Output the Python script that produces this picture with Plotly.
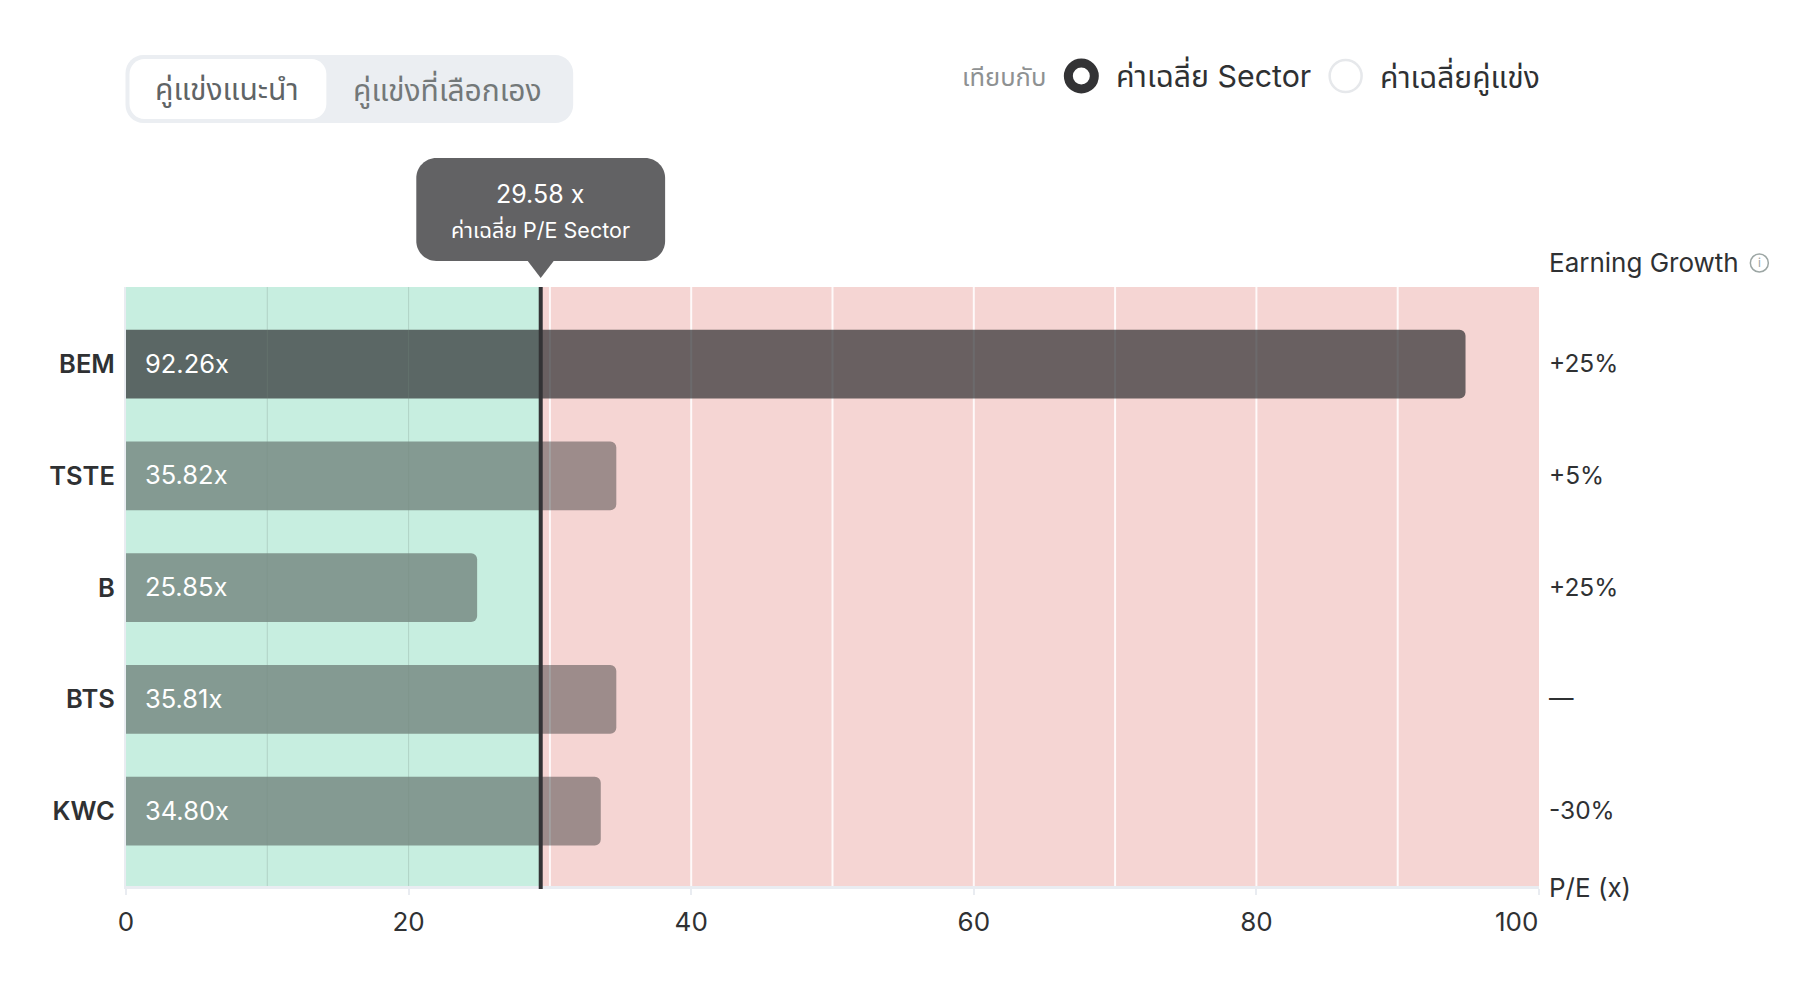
import plotly.graph_objects as go

companies = ["BEM", "TSTE", "B", "BTS", "KWC"]
bar_values = [94.8, 34.7, 24.85, 34.7, 33.6]
bar_labels = ["92.26x", "35.82x", "25.85x", "35.81x", "34.80x"]
growth_labels = ["+25%", "+5%", "+25%", "—", "-30%"]
sector_avg = 29.35
sector_label = "29.58 x"
x_ticks = [0, 20, 40, 60, 80]
x_tick_labels = ["0", "20", "40", "60", "80"]
grid_in_green = [10, 20]
grid_in_red = [30, 40, 50, 60, 70, 80, 90]

W, H = 1800, 1000
L, R, T, B = 125.5, 1539.5, 287, 886
FONT = "Inter, 'Noto Sans Thai', 'Noto Sans', sans-serif"
INK = "#2F3133"
px = lambda v: (v - L) / (R - L)
py = lambda v: (B - v) / (B - T)


def rrect(x0, y0, x1, y1, r):
    k = r * 0.45
    pts = [
        ("M", x0 + r, y0), ("L", x1 - r, y0),
        ("C", x1 - k, y0, x1, y0 + k, x1, y0 + r), ("L", x1, y1 - r),
        ("C", x1, y1 - k, x1 - k, y1, x1 - r, y1), ("L", x0 + r, y1),
        ("C", x0 + k, y1, x0, y1 - k, x0, y1 - r), ("L", x0, y0 + r),
        ("C", x0, y0 + k, x0 + k, y0, x0 + r, y0),
    ]
    out = ""
    for p in pts:
        coords = p[1:]
        conv = [f"{px(coords[i])},{py(coords[i + 1])}" for i in range(0, len(coords), 2)]
        out += p[0] + " ".join(conv) + " "
    return out + "Z"


def panel(x0, y0, x1, y1, r, fill):
    return dict(type="path", xref="paper", yref="paper", path=rrect(x0, y0, x1, y1, r),
                fillcolor=fill, line_width=0, layer="above")


def ring(cx, cy, r, fill, line, width):
    return dict(type="circle", xref="paper", yref="paper", x0=px(cx - r), x1=px(cx + r),
                y0=py(cy + r), y1=py(cy - r), fillcolor=fill, line=dict(color=line, width=width))


def label(text, x, y, size, color=INK, anchor="left", weight=400):
    return dict(text=text, xref="paper", yref="paper", x=px(x), y=py(y), xanchor=anchor, yanchor="middle",
                showarrow=False, font=dict(family=FONT, size=size, color=color, weight=weight))


bar_colors = ["rgba(45,45,48,0.70)"] + ["rgba(50,50,52,0.45)"] * 4
fig = go.Figure(go.Bar(
    y=companies, x=bar_values, orientation="h", width=0.615,
    marker=dict(color=bar_colors, cornerradius=6, line_width=0),
    hoverinfo="skip",
))

shapes = [
    dict(type="rect", xref="x", yref="paper", x0=0, x1=sector_avg, y0=0, y1=1,
         fillcolor="#C7EEE0", line_width=0, layer="below"),
    dict(type="rect", xref="x", yref="paper", x0=sector_avg, x1=100, y0=0, y1=1,
         fillcolor="#F5D5D3", line_width=0, layer="below"),
]
for g in grid_in_green:
    shapes.append(dict(type="line", xref="x", yref="paper", x0=g, x1=g, y0=0, y1=1,
                       line=dict(color="rgba(120,140,130,0.28)", width=1), layer="above"))
for g in grid_in_red:
    shapes.append(dict(type="line", xref="x", yref="paper", x0=g, x1=g, y0=0, y1=1,
                       line=dict(color="rgba(255,255,255,0.85)", width=2), layer="below"))
shapes.append(dict(type="line", xref="x", yref="paper", x0=sector_avg, x1=sector_avg, y0=-0.005, y1=1,
                   line=dict(color="#333335", width=4), layer="above"))
# toggle control
shapes += [panel(125, 55, 573, 123, 18, "#EBEEF2"), panel(129, 59, 326, 119, 15, "#FFFFFF")]
# tooltip
tip_x = L + sector_avg / 100 * (R - L)
shapes += [
    panel(416, 158, 665, 261, 20, "#626264"),
    dict(type="path", xref="paper", yref="paper", fillcolor="#626264", line_width=0,
         path=f"M{px(tip_x - 13)},{py(261)} L{px(tip_x + 13)},{py(261)} L{px(tip_x)},{py(278)} Z"),
]
# radio buttons and info icon
shapes += [
    ring(1081.5, 76, 13, "#FFFFFF", "#333335", 9),
    ring(1346, 76, 16, "#FFFFFF", "#E6E8EB", 2.5),
    ring(1760, 263, 9, "#FFFFFF", "#9CA6A4", 1.5),
]

annotations = [
    label("คู่แข่งแนะนำ", 227, 89, 30, "#5F6466", "center"),
    label("คู่แข่งที่เลือกเอง", 447, 89, 30, "#737879", "center"),
    label("เทียบกับ", 960, 76, 25.5, "#8E9192"),
    label("ค่าเฉลี่ย Sector", 1114, 75, 30.3),
    label("ค่าเฉลี่ยคู่แข่ง", 1378, 76, 30),
    label(sector_label, 540, 194, 25, "#FFFFFF", "center"),
    label("ค่าเฉลี่ย P/E Sector", 540.5, 230, 21.5, "#FFFFFF", "center"),
    label("Earning Growth", 1548, 263, 26),
    label("i", 1760, 263, 12, "#9CA6A4", "center"),
    label("P/E (x)", 1548, 887, 26),
    label("100", 1541, 921, 26, INK, "right"),
]
for name, text, growth in zip(companies, bar_labels, growth_labels):
    annotations.append(dict(text=text, xref="x", yref="y", x=0, y=name, xanchor="left", xshift=17, yshift=1,
                            showarrow=False, font=dict(family=FONT, size=25.5, color="#FFFFFF")))
    annotations.append(dict(text=growth, xref="paper", yref="y", x=px(1548), y=name, xanchor="left", yshift=1,
                            showarrow=False, font=dict(family=FONT, size=24.5, color=INK)))

fig.update_layout(
    width=W, height=H, margin=dict(l=L, r=W - R, t=T, b=H - B, pad=0),
    paper_bgcolor="#FFFFFF", plot_bgcolor="#FFFFFF", showlegend=False,
    shapes=shapes, annotations=annotations,
    font=dict(family=FONT, color=INK),
    xaxis=dict(range=[0, 100], tickmode="array", tickvals=x_ticks + [100], ticktext=x_tick_labels + [""],
               showgrid=False, zeroline=False, showline=True, linecolor="#E9ECF1", linewidth=3,
               ticks="outside", ticklen=6, tickwidth=1.5, tickcolor="#E9ECF1", ticklabelstandoff=5,
               tickfont=dict(family=FONT, size=26, color=INK)),
    yaxis=dict(type="category", categoryorder="array", categoryarray=companies, range=[4.67, -0.69],
               showgrid=False, zeroline=False, showline=True, linecolor="#E9ECF1", linewidth=2,
               ticks="", ticklabelstandoff=4,
               tickfont=dict(family=FONT, size=25.5, color=INK, weight=600)),
)
fig.write_html("out.html", config=dict(displayModeBar=False),
               post_script="document.body.style.margin='0';window.dispatchEvent(new Event('resize'));")
